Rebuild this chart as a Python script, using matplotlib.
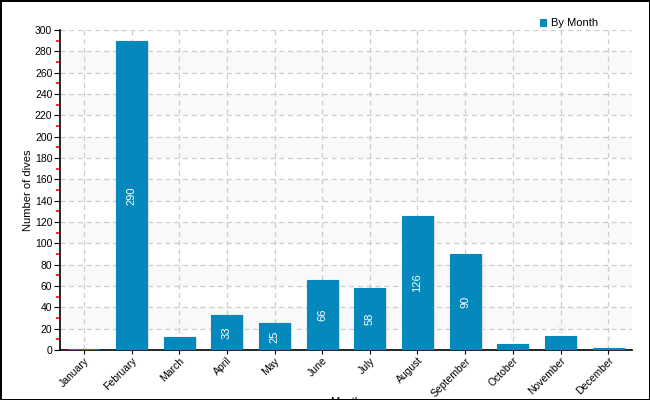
import matplotlib
matplotlib.use('Agg')
from matplotlib import pyplot as plt
import numpy as np

months = ['January', 'February', 'March', 'April', 'May', 'June', 'July',
          'August', 'September', 'October', 'November', 'December']
dives = [1, 290, 12, 33, 25, 66, 58, 126, 90, 6, 13, 2]

bar_color = '#0588bc'

plt.rcParams['font.family'] = ['Liberation Sans', 'DejaVu Sans']

fig = plt.figure(figsize=(6.5, 4), dpi=100)
fig.patch.set_edgecolor('black')
fig.patch.set_linewidth(2)
ax = fig.add_axes([60 / 650, 50 / 400, 572 / 650, 320 / 400])

x = np.arange(len(months))

# alternating background bands
for lo in range(20, 300, 40):
    ax.axhspan(lo, lo + 20, color='#f9f9f9', zorder=0, lw=0)

ax.set_ylim(0, 300)
ax.set_xlim(-0.5, len(months) - 0.5)
ax.set_yticks(range(0, 301, 20))
ax.set_yticks(range(10, 300, 20), minor=True)
ax.grid(True, axis='both', which='major', color='#cccccc', linestyle=(0, (4, 3)), lw=0.9, zorder=1)

# faint shadow, then bars
ax.bar(x + 0.04, dives, width=0.65, color='#e4e4e4', zorder=2)
ax.bar(x, dives, width=0.65, color=bar_color, edgecolor=bar_color, lw=0.8,
       zorder=3, label='By Month')

for i, v in enumerate(dives):
    if v > 20:
        ax.text(i, v / 2, str(v), rotation=90, ha='center', va='center',
                color='white', fontsize=8, zorder=4)
    else:
        ax.text(i, v + 1.5, str(v), ha='center', va='bottom',
                color='#eeeeee', fontsize=8, zorder=4)

ax.set_xticks(x)
ax.set_xticklabels(months, rotation=45, ha='right', rotation_mode='anchor', fontsize=7.5)
ax.tick_params(axis='y', which='major', labelsize=7.5, length=4, color='black', pad=1.5)
ax.tick_params(axis='y', which='minor', length=3, width=1.2, color='red')
ax.tick_params(axis='x', length=3, pad=1)

ax.spines['top'].set_visible(False)
ax.spines['right'].set_visible(False)
ax.spines['left'].set_linewidth(1.2)
ax.spines['bottom'].set_linewidth(1.2)

ax.set_ylabel('Number of dives', fontsize=8)
ax.yaxis.set_label_coords(-0.047, 0.5)
fig.text(346 / 650, 3 / 400, 'Month', ha='center', va='top', fontsize=8)

fig.legend(loc='upper right', bbox_to_anchor=(608 / 650, 392 / 400), frameon=False,
           fontsize=8, handlelength=0.6, handleheight=0.6, handletextpad=0.4)

plt.savefig('out.png', dpi=100)
